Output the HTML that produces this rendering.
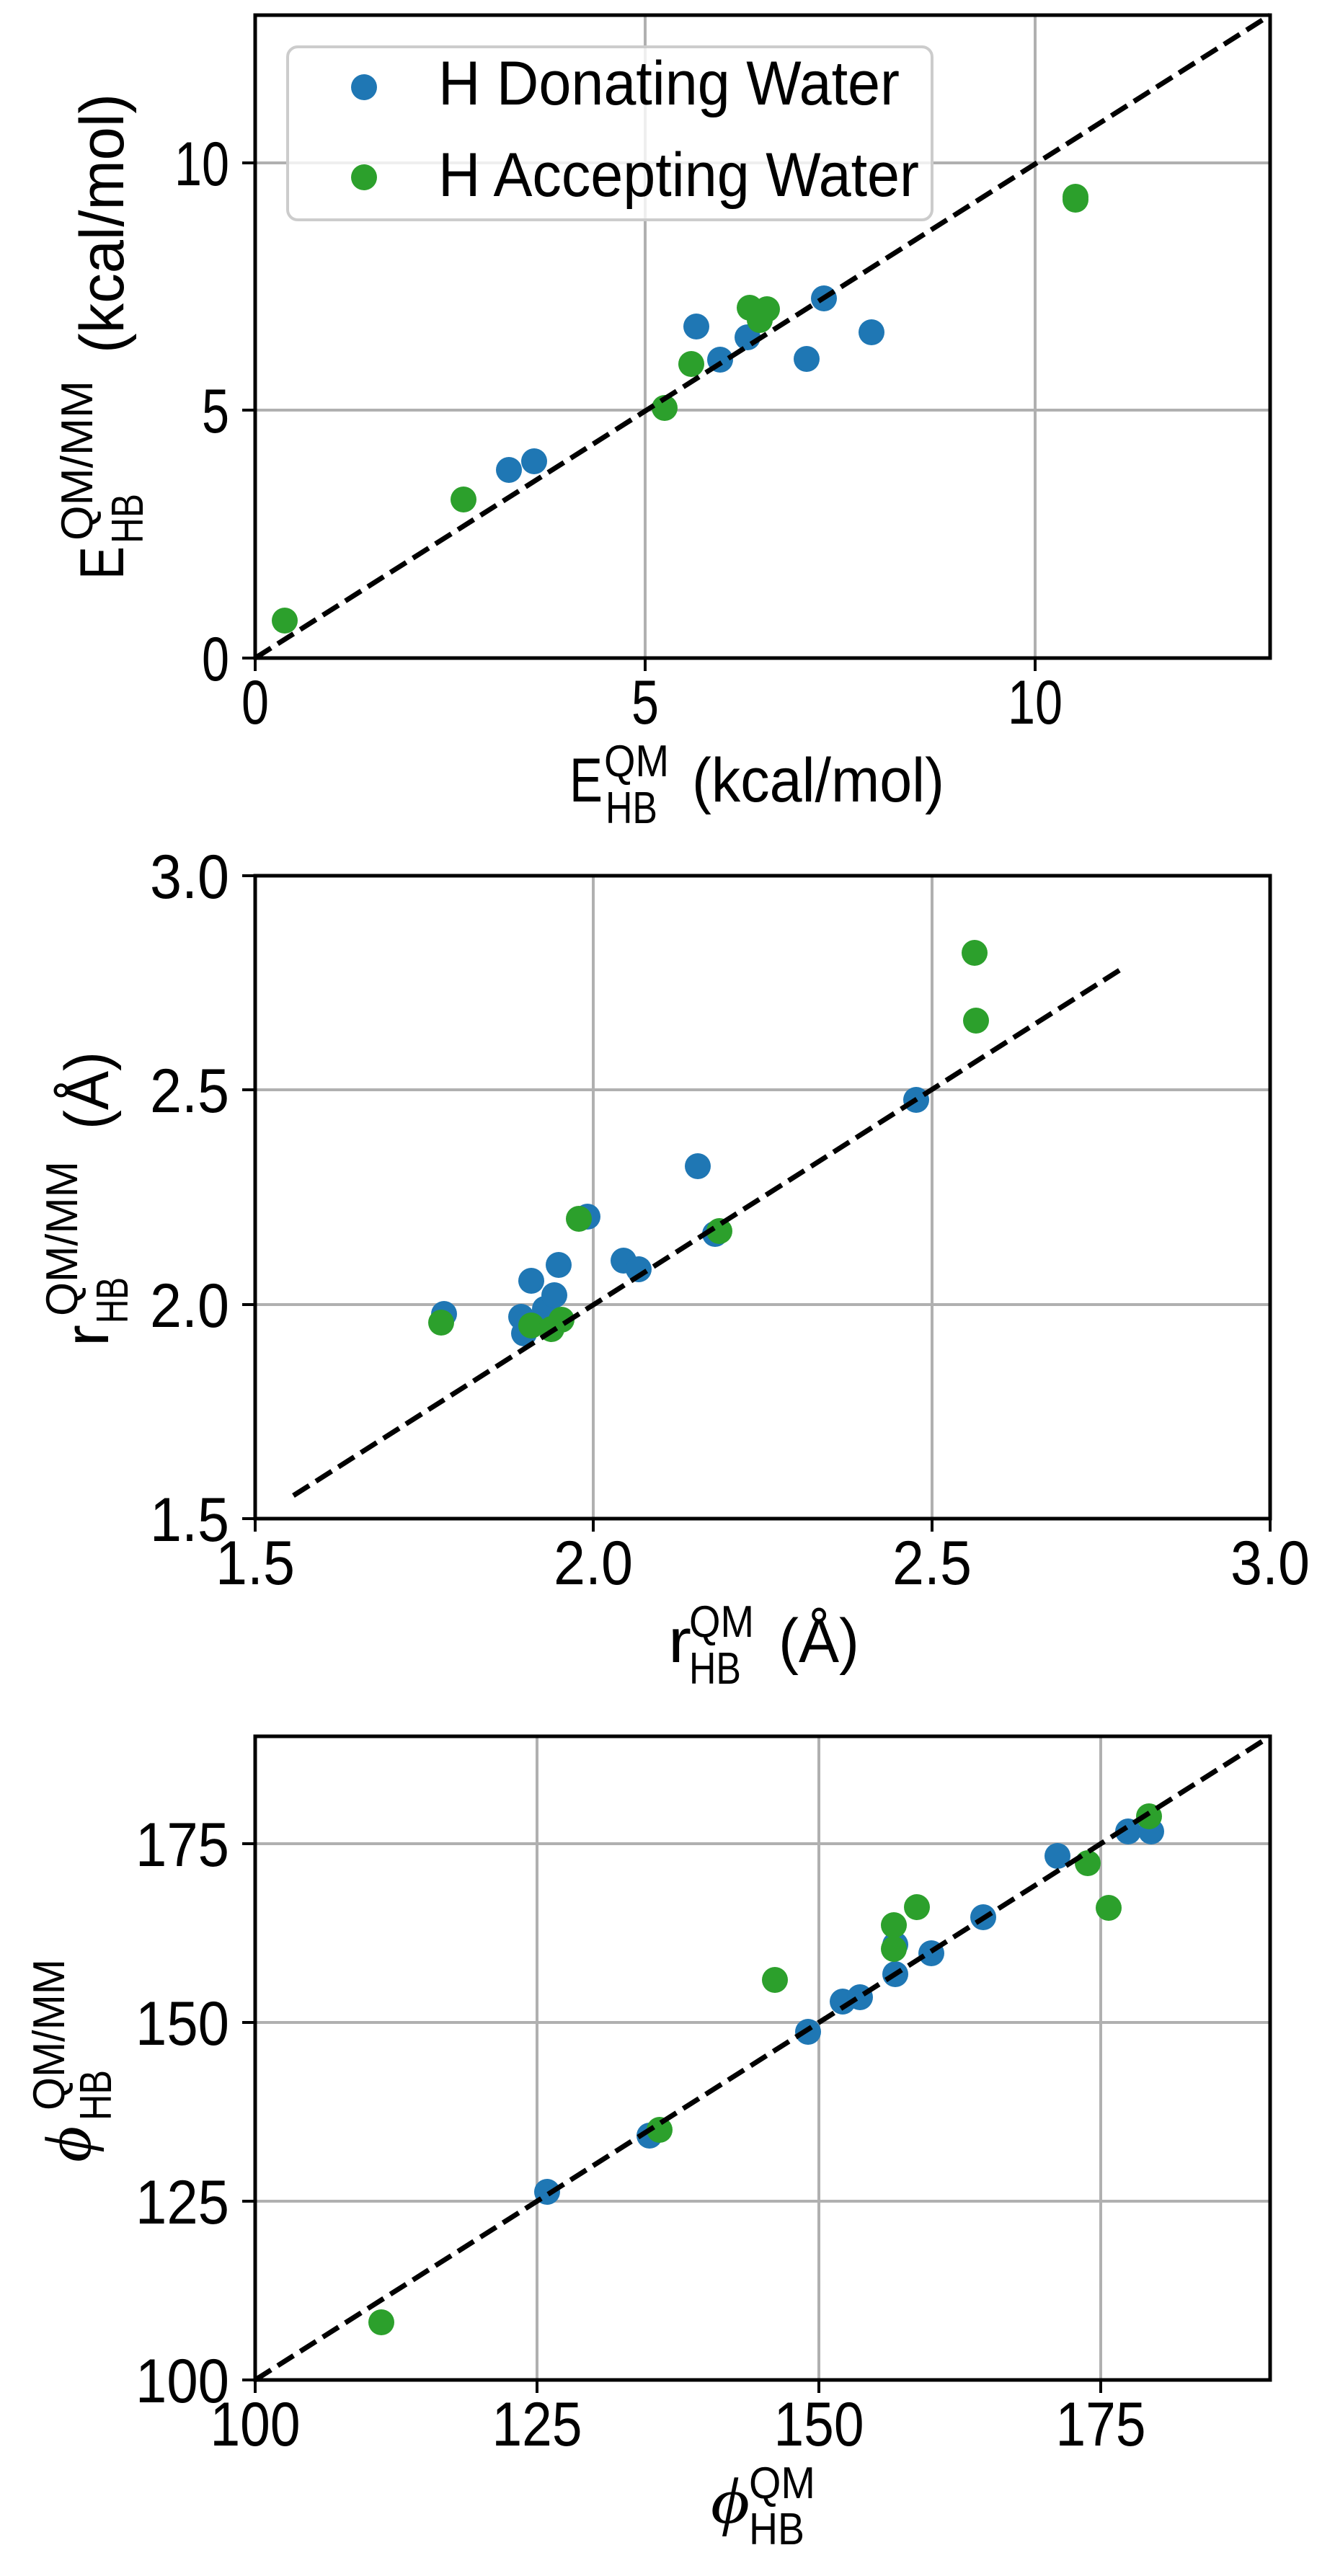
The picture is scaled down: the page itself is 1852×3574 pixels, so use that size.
<!DOCTYPE html>
<html><head><meta charset="utf-8">
<style>
html,body{margin:0;padding:0;background:#fff;}
svg{display:block;}
text{font-family:"Liberation Sans",sans-serif;fill:#000;}
.t{font-size:86px;}
.s{font-size:62px;}
.ph{font-family:"Liberation Serif","DejaVu Serif",serif;font-style:italic;font-size:90px;}
</style></head>
<body>
<svg width="1852" height="3574" viewBox="0 0 1852 3574" xmlns="http://www.w3.org/2000/svg">
<rect width="1852" height="3574" fill="#fff"/>

<!-- ============ PANEL 1 ============ -->
<g stroke="#b0b0b0" stroke-width="4">
<line x1="895" y1="21" x2="895" y2="913"/>
<line x1="1436" y1="21" x2="1436" y2="913"/>
<line x1="354" y1="569" x2="1762" y2="569"/>
<line x1="354" y1="226" x2="1762" y2="226"/>
</g>
<g fill="#1f77b4">
<circle cx="966" cy="453" r="18"/><circle cx="706" cy="652" r="18"/><circle cx="741" cy="640" r="18"/>
<circle cx="999" cy="499" r="18"/><circle cx="1037" cy="468" r="18"/><circle cx="1119" cy="498" r="18"/>
<circle cx="1143" cy="414" r="18"/><circle cx="1209" cy="461" r="18"/>
</g>
<g fill="#2ca02c">
<circle cx="395" cy="861" r="18"/><circle cx="643" cy="693" r="18"/><circle cx="922" cy="566" r="18"/>
<circle cx="959" cy="505" r="18"/><circle cx="1054" cy="444" r="18"/><circle cx="1040" cy="427" r="18"/>
<circle cx="1064" cy="429" r="18"/><circle cx="1492" cy="273" r="18"/><circle cx="1492" cy="277" r="18"/>
</g>
<line x1="354" y1="913" x2="1762" y2="21" stroke="#000" stroke-width="7" stroke-dasharray="26 11"/>
<rect x="354" y="21" width="1408" height="892" fill="none" stroke="#000" stroke-width="5"/>
<g stroke="#000" stroke-width="4">
<line x1="336" y1="913" x2="354" y2="913"/><line x1="336" y1="569" x2="354" y2="569"/><line x1="336" y1="226" x2="354" y2="226"/>
<line x1="354" y1="913" x2="354" y2="931"/><line x1="895" y1="913" x2="895" y2="931"/><line x1="1436" y1="913" x2="1436" y2="931"/>
</g>
<!-- legend -->
<rect x="399" y="65" width="894" height="240" rx="14" fill="#fff" fill-opacity="0.8" stroke="#cccccc" stroke-width="4"/>
<circle cx="505" cy="121" r="18" fill="#1f77b4"/>
<circle cx="505" cy="246" r="18" fill="#2ca02c"/>
<text class="t" x="608" y="145" textLength="640" lengthAdjust="spacingAndGlyphs">H Donating Water</text>
<text class="t" x="608" y="272" textLength="667" lengthAdjust="spacingAndGlyphs">H Accepting Water</text>
<!-- ticks labels -->
<text class="t" x="318" y="944" text-anchor="end" textLength="38" lengthAdjust="spacingAndGlyphs">0</text>
<text class="t" x="318" y="600" text-anchor="end" textLength="38" lengthAdjust="spacingAndGlyphs">5</text>
<text class="t" x="318" y="257" text-anchor="end" textLength="76" lengthAdjust="spacingAndGlyphs">10</text>
<text class="t" x="354" y="1004" text-anchor="middle" textLength="38" lengthAdjust="spacingAndGlyphs">0</text>
<text class="t" x="895" y="1004" text-anchor="middle" textLength="38" lengthAdjust="spacingAndGlyphs">5</text>
<text class="t" x="1436" y="1004" text-anchor="middle" textLength="76" lengthAdjust="spacingAndGlyphs">10</text>
<!-- x label -->
<text class="t" x="790" y="1112" textLength="46" lengthAdjust="spacingAndGlyphs">E</text>
<text class="s" x="838" y="1077" textLength="90" lengthAdjust="spacingAndGlyphs">QM</text>
<text class="s" x="840" y="1142" textLength="72" lengthAdjust="spacingAndGlyphs">HB</text>
<text class="t" x="960" y="1112" textLength="350" lengthAdjust="spacingAndGlyphs">(kcal/mol)</text>
<!-- y label -->
<text class="t" transform="translate(171,804) rotate(-90)" textLength="46" lengthAdjust="spacingAndGlyphs">E</text>
<text class="s" transform="translate(128,750) rotate(-90)" textLength="222" lengthAdjust="spacingAndGlyphs">QM/MM</text>
<text class="s" transform="translate(198,754) rotate(-90)" textLength="69" lengthAdjust="spacingAndGlyphs">HB</text>
<text class="t" transform="translate(171,490) rotate(-90)" textLength="360" lengthAdjust="spacingAndGlyphs">(kcal/mol)</text>

<!-- ============ PANEL 2 ============ -->
<g stroke="#b0b0b0" stroke-width="4">
<line x1="823" y1="1215" x2="823" y2="2107"/>
<line x1="1293" y1="1215" x2="1293" y2="2107"/>
<line x1="354" y1="1810" x2="1762" y2="1810"/>
<line x1="354" y1="1512" x2="1762" y2="1512"/>
</g>
<g fill="#1f77b4">
<circle cx="616" cy="1823" r="18"/><circle cx="723" cy="1827" r="18"/><circle cx="727" cy="1850" r="18"/>
<circle cx="737" cy="1777" r="18"/><circle cx="756" cy="1816" r="18"/><circle cx="769" cy="1797" r="18"/>
<circle cx="775" cy="1755" r="18"/><circle cx="815" cy="1688" r="18"/><circle cx="865" cy="1749" r="18"/>
<circle cx="886" cy="1761" r="18"/><circle cx="968" cy="1618" r="18"/><circle cx="992" cy="1712" r="18"/>
<circle cx="1271" cy="1526" r="18"/>
</g>
<g fill="#2ca02c">
<circle cx="612" cy="1835" r="18"/><circle cx="737" cy="1839" r="18"/><circle cx="765" cy="1844" r="18"/>
<circle cx="779" cy="1831" r="18"/><circle cx="803" cy="1691" r="18"/><circle cx="998" cy="1708" r="18"/>
<circle cx="1352" cy="1322" r="18"/><circle cx="1354" cy="1416" r="18"/>
</g>
<line x1="407" y1="2075" x2="1561" y2="1341" stroke="#000" stroke-width="7" stroke-dasharray="26 11"/>
<rect x="354" y="1215" width="1408" height="892" fill="none" stroke="#000" stroke-width="5"/>
<g stroke="#000" stroke-width="4">
<line x1="336" y1="2107" x2="354" y2="2107"/><line x1="336" y1="1810" x2="354" y2="1810"/><line x1="336" y1="1512" x2="354" y2="1512"/><line x1="336" y1="1215" x2="354" y2="1215"/>
<line x1="354" y1="2107" x2="354" y2="2125"/><line x1="823" y1="2107" x2="823" y2="2125"/><line x1="1293" y1="2107" x2="1293" y2="2125"/><line x1="1762" y1="2107" x2="1762" y2="2125"/>
</g>
<text class="t" x="318" y="2138" text-anchor="end" textLength="110" lengthAdjust="spacingAndGlyphs">1.5</text>
<text class="t" x="318" y="1841" text-anchor="end" textLength="110" lengthAdjust="spacingAndGlyphs">2.0</text>
<text class="t" x="318" y="1543" text-anchor="end" textLength="110" lengthAdjust="spacingAndGlyphs">2.5</text>
<text class="t" x="318" y="1246" text-anchor="end" textLength="110" lengthAdjust="spacingAndGlyphs">3.0</text>
<text class="t" x="354" y="2198" text-anchor="middle" textLength="110" lengthAdjust="spacingAndGlyphs">1.5</text>
<text class="t" x="823" y="2198" text-anchor="middle" textLength="110" lengthAdjust="spacingAndGlyphs">2.0</text>
<text class="t" x="1293" y="2198" text-anchor="middle" textLength="110" lengthAdjust="spacingAndGlyphs">2.5</text>
<text class="t" x="1762" y="2198" text-anchor="middle" textLength="110" lengthAdjust="spacingAndGlyphs">3.0</text>
<!-- x label -->
<text class="t" x="927" y="2306" textLength="32" lengthAdjust="spacingAndGlyphs">r</text>
<text class="s" x="956" y="2271" textLength="90" lengthAdjust="spacingAndGlyphs">QM</text>
<text class="s" x="956" y="2336" textLength="72" lengthAdjust="spacingAndGlyphs">HB</text>
<text class="t" x="1080" y="2306" textLength="112" lengthAdjust="spacingAndGlyphs">(Å)</text>
<!-- y label -->
<text class="t" transform="translate(150,1868) rotate(-90)" textLength="30" lengthAdjust="spacingAndGlyphs">r</text>
<text class="s" transform="translate(107,1826) rotate(-90)" textLength="215" lengthAdjust="spacingAndGlyphs">QM/MM</text>
<text class="s" transform="translate(177,1836) rotate(-90)" textLength="64" lengthAdjust="spacingAndGlyphs">HB</text>
<text class="t" transform="translate(150,1567) rotate(-90)" textLength="108" lengthAdjust="spacingAndGlyphs">(Å)</text>

<!-- ============ PANEL 3 ============ -->
<g stroke="#b0b0b0" stroke-width="4">
<line x1="745" y1="2409" x2="745" y2="3302"/>
<line x1="1136" y1="2409" x2="1136" y2="3302"/>
<line x1="1527" y1="2409" x2="1527" y2="3302"/>
<line x1="354" y1="3054" x2="1762" y2="3054"/>
<line x1="354" y1="2806" x2="1762" y2="2806"/>
<line x1="354" y1="2558" x2="1762" y2="2558"/>
</g>
<g fill="#1f77b4">
<circle cx="759" cy="3041" r="18"/><circle cx="901" cy="2963" r="18"/><circle cx="1121" cy="2819" r="18"/>
<circle cx="1169" cy="2777" r="18"/><circle cx="1193" cy="2771" r="18"/><circle cx="1242" cy="2739" r="18"/>
<circle cx="1242" cy="2698" r="18"/><circle cx="1292" cy="2710" r="18"/><circle cx="1364" cy="2660" r="18"/>
<circle cx="1467" cy="2575" r="18"/><circle cx="1565" cy="2541" r="18"/><circle cx="1597" cy="2541" r="18"/>
</g>
<g fill="#2ca02c">
<circle cx="529" cy="3222" r="18"/><circle cx="915" cy="2955" r="18"/><circle cx="1075" cy="2747" r="18"/>
<circle cx="1240" cy="2671" r="18"/><circle cx="1240" cy="2704" r="18"/><circle cx="1272" cy="2646" r="18"/>
<circle cx="1509" cy="2585" r="18"/><circle cx="1538" cy="2647" r="18"/><circle cx="1594" cy="2520" r="18"/>
</g>
<line x1="354" y1="3302" x2="1762" y2="2409" stroke="#000" stroke-width="7" stroke-dasharray="26 11"/>
<rect x="354" y="2409" width="1408" height="893" fill="none" stroke="#000" stroke-width="5"/>
<g stroke="#000" stroke-width="4">
<line x1="336" y1="3302" x2="354" y2="3302"/><line x1="336" y1="3054" x2="354" y2="3054"/><line x1="336" y1="2806" x2="354" y2="2806"/><line x1="336" y1="2558" x2="354" y2="2558"/>
<line x1="354" y1="3302" x2="354" y2="3320"/><line x1="745" y1="3302" x2="745" y2="3320"/><line x1="1136" y1="3302" x2="1136" y2="3320"/><line x1="1527" y1="3302" x2="1527" y2="3320"/>
</g>
<text class="t" x="318" y="3333" text-anchor="end" textLength="130" lengthAdjust="spacingAndGlyphs">100</text>
<text class="t" x="318" y="3085" text-anchor="end" textLength="130" lengthAdjust="spacingAndGlyphs">125</text>
<text class="t" x="318" y="2837" text-anchor="end" textLength="130" lengthAdjust="spacingAndGlyphs">150</text>
<text class="t" x="318" y="2589" text-anchor="end" textLength="130" lengthAdjust="spacingAndGlyphs">175</text>
<text class="t" x="354" y="3393" text-anchor="middle" textLength="125" lengthAdjust="spacingAndGlyphs">100</text>
<text class="t" x="745" y="3393" text-anchor="middle" textLength="125" lengthAdjust="spacingAndGlyphs">125</text>
<text class="t" x="1136" y="3393" text-anchor="middle" textLength="125" lengthAdjust="spacingAndGlyphs">150</text>
<text class="t" x="1527" y="3393" text-anchor="middle" textLength="125" lengthAdjust="spacingAndGlyphs">175</text>
<!-- x label -->
<text class="ph" x="986" y="3500" textLength="54" lengthAdjust="spacingAndGlyphs">ϕ</text>
<text class="s" x="1039" y="3466" textLength="92" lengthAdjust="spacingAndGlyphs">QM</text>
<text class="s" x="1039" y="3530" textLength="77" lengthAdjust="spacingAndGlyphs">HB</text>
<!-- y label -->
<text class="ph" transform="translate(125,3000) rotate(-90)" textLength="50" lengthAdjust="spacingAndGlyphs">ϕ</text>
<text class="s" transform="translate(89,2928) rotate(-90)" textLength="210" lengthAdjust="spacingAndGlyphs">QM/MM</text>
<text class="s" transform="translate(154,2942) rotate(-90)" textLength="70" lengthAdjust="spacingAndGlyphs">HB</text>
</svg>
</body></html>
